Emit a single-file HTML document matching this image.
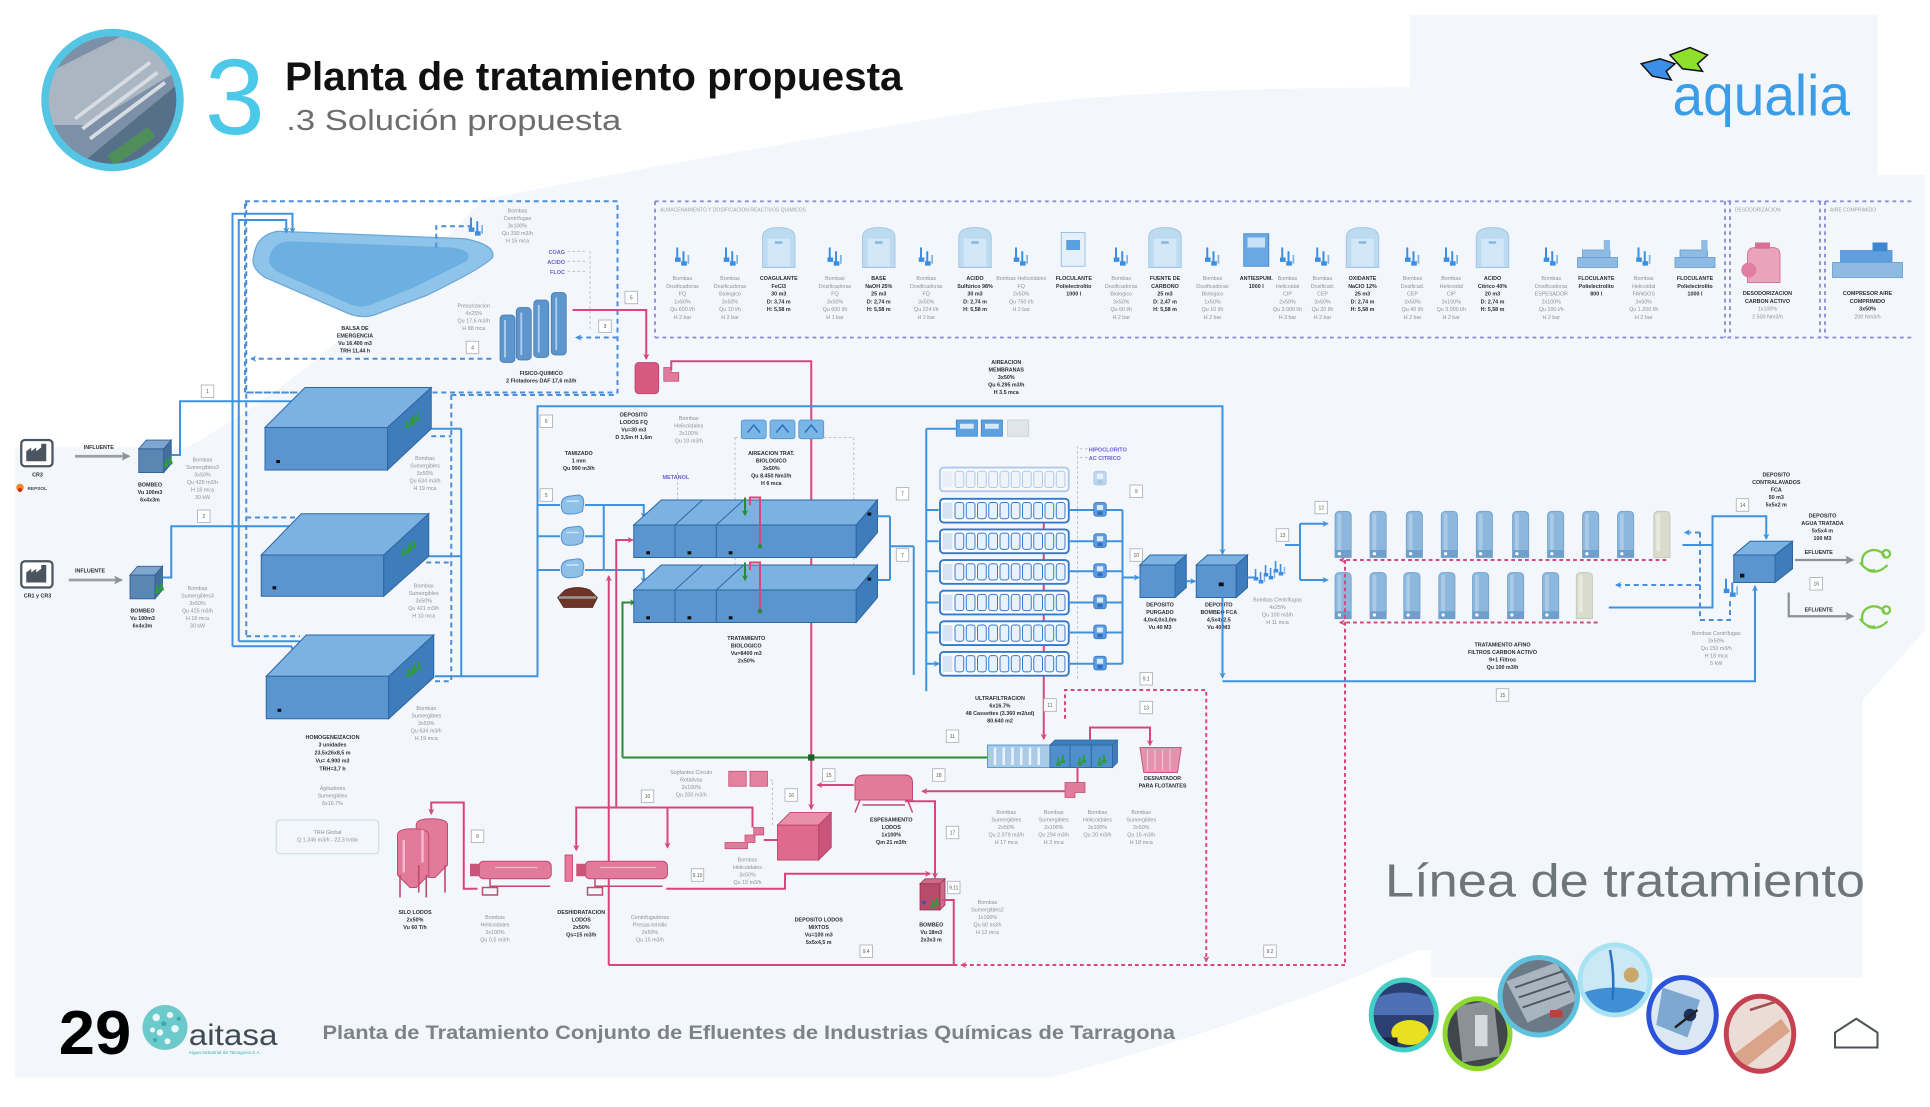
<!DOCTYPE html>
<html lang="es"><head><meta charset="utf-8"><title>Planta de tratamiento propuesta</title>
<style>
html,body{margin:0;padding:0;background:#fff;width:1930px;height:1107px;overflow:hidden}
svg{display:block}
text{font-family:"Liberation Sans",Arial,sans-serif}
.s{font-size:4.3px;fill:#8d9399;text-anchor:middle}
.b{font-size:4.3px;fill:#2b3036;text-anchor:middle;font-weight:bold}
.pu{font-size:4.4px;fill:#6a5ed2;font-weight:bold}
.n{font-size:4px;fill:#555;text-anchor:middle}
.bl{fill:none;stroke:#3f93de;stroke-width:1.6}
.bd{fill:none;stroke:#4a8fd8;stroke-width:1.6;stroke-dasharray:4 3}
.pk{fill:none;stroke:#d8467b;stroke-width:1.6}
.pd{fill:none;stroke:#d8467b;stroke-width:1.6;stroke-dasharray:3 2.5}
.gr{fill:none;stroke:#2c8a37;stroke-width:1.6}
.gd{fill:none;stroke:#b3b9bf;stroke-width:0.7;stroke-dasharray:2 2}
.vd{fill:none;stroke:#8d8fd9;stroke-width:1.5;stroke-dasharray:3 3}
.bf{fill:#5b95cf;stroke:#2d67a3;stroke-width:0.8}
.bt{fill:#7cb2e1;stroke:#2d67a3;stroke-width:0.8}
.br{fill:#3f7cbc;stroke:#2d67a3;stroke-width:0.8}
</style></head><body>
<svg xmlns="http://www.w3.org/2000/svg" width="1930" height="1107" viewBox="0 0 1544 885.6" preserveAspectRatio="none">
<defs>
<marker id="mb" viewBox="0 0 10 10" refX="8" refY="5" markerWidth="5" markerHeight="5" markerUnits="userSpaceOnUse" orient="auto"><path d="M0,0 L10,5 L0,10 L3,5Z" fill="#3f93de"/></marker>
<marker id="mp" viewBox="0 0 10 10" refX="8" refY="5" markerWidth="5" markerHeight="5" markerUnits="userSpaceOnUse" orient="auto"><path d="M0,0 L10,5 L0,10 L3,5Z" fill="#d8467b"/></marker>
<marker id="mg" viewBox="0 0 10 10" refX="8" refY="5" markerWidth="5" markerHeight="5" markerUnits="userSpaceOnUse" orient="auto"><path d="M0,0 L10,5 L0,10 L3,5Z" fill="#2c8a37"/></marker>
<marker id="mr" viewBox="0 0 10 10" refX="8" refY="5" markerWidth="7" markerHeight="7" markerUnits="userSpaceOnUse" orient="auto"><path d="M0,0 L10,5 L0,10 L2,5Z" fill="#8c9398"/></marker>
<g id="pm" fill="#3d8ee0"><rect x="1" y="0" width="1.6" height="9"/><rect x="0" y="8" width="4.5" height="3.5"/><rect x="6" y="3" width="1.6" height="9"/><rect x="5" y="11" width="4.5" height="3.5"/><rect x="10" y="6" width="1.4" height="7" fill="#7fb6e8"/></g>
<g id="tk"><path d="M0,8 Q0,0 13,0 Q26,0 26,8 V32 H0Z" fill="#bcdaf0" stroke="#9cc5e6" stroke-width="0.7"/><path d="M4,9 H22 V31 H4Z" fill="#d2e7f7"/><rect x="10" y="11" width="6" height="2" fill="#86b6df"/></g>
<g id="fl"><path d="M1,4 Q1,0 5,0 H10 Q14,0 14,4 V37 H1Z" fill="#8db7dc" stroke="#6c9fcf" stroke-width="0.6"/><rect x="3" y="2" width="3" height="30" fill="#a9cbe8"/><rect x="1" y="31" width="13" height="6" fill="#6f9fcb"/><circle cx="4.5" cy="34" r="1.3" fill="#fff"/></g>
<g id="flp"><path d="M1,4 Q1,0 5,0 H10 Q14,0 14,4 V37 H1Z" fill="#d9dccd" stroke="#bfc3b4" stroke-width="0.6"/><rect x="3" y="2" width="3" height="30" fill="#e8eadf"/></g>
<g id="uf"><rect x="0" y="0" width="103" height="19" rx="3" fill="#fff" stroke="#3478cc" stroke-width="1.5"/><rect x="2" y="3" width="8" height="13" fill="#d6e3f1"/>
<g fill="#e9f1fa" stroke="#3478cc" stroke-width="0.8"><rect x="12" y="3" width="7" height="13" rx="2"/><rect x="21" y="3" width="7" height="13" rx="2"/><rect x="30" y="3" width="7" height="13" rx="2"/><rect x="39" y="3" width="7" height="13" rx="2"/><rect x="48" y="3" width="7" height="13" rx="2"/><rect x="57" y="3" width="7" height="13" rx="2"/><rect x="66" y="3" width="7" height="13" rx="2"/><rect x="75" y="3" width="7" height="13" rx="2"/><rect x="84" y="3" width="7" height="13" rx="2"/><rect x="93" y="3" width="7" height="13" rx="2"/></g></g>
<g id="sv"><path d="M0,8 Q0,2 6,1 L14,0 Q18,1 18,6 L17,13 Q12,16 4,15 Q0,14 0,8Z" fill="#8ec0e8" stroke="#4f8fcf" stroke-width="0.8"/><path d="M4,5 H14" stroke="#cfe5f7" stroke-width="1.2"/></g>
<g id="gp" fill="#2f9a3a"><rect x="0" y="0" width="1.5" height="5"/><rect x="-1" y="4" width="3.5" height="2.5"/><rect x="3.5" y="-2" width="1.5" height="5"/><rect x="2.5" y="2" width="3.5" height="2.5"/></g>
<g id="up"><rect x="0" y="0" width="10" height="11" rx="2" fill="#5b9be0" stroke="#2f6fbf" stroke-width="0.6"/><rect x="2.5" y="2" width="5" height="4" fill="#dbeaf8"/><rect x="3" y="7" width="4" height="3" fill="#2f6fbf"/></g>
<g id="nb"><rect x="-5" y="-5" width="10" height="10" fill="#fff" stroke="#a0a8b0" stroke-width="0.6"/></g>
<clipPath id="cph"><circle cx="90" cy="80" r="51"/></clipPath>
<clipPath id="c1"><ellipse cx="1123" cy="812" rx="24" ry="26"/></clipPath>
<clipPath id="c2"><ellipse cx="1182" cy="827" rx="24" ry="26"/></clipPath>
<clipPath id="c3"><ellipse cx="1231" cy="797" rx="29" ry="29"/></clipPath>
<clipPath id="c4"><ellipse cx="1292" cy="784" rx="26" ry="26"/></clipPath>
<clipPath id="c5"><ellipse cx="1346" cy="812" rx="25" ry="28"/></clipPath>
<clipPath id="c6"><ellipse cx="1408" cy="827" rx="25" ry="28"/></clipPath>
</defs>

<!-- background -->
<rect width="1544" height="886" fill="#fff"/>
<rect x="12" y="12" width="1528" height="850" fill="#f3f6fa"/>
<path d="M0,0 H1544 V12 H1128 V70 Q900,70 790,88 Q560,125 385,160 Q270,290 150,358 H0 Z" fill="#fff"/>
<path d="M1502,0 H1544 V140 H1502Z" fill="#fff"/>
<path d="M840,862 Q1000,820 1135,760 L1145,760 V782 H1544 V886 H840Z" fill="#fff"/>
<path d="M1490,560 L1544,500 V862 H1490Z" fill="#fff"/>
<rect x="0" y="862" width="1544" height="24" fill="#fff"/>

<!-- header -->
<circle cx="90" cy="80" r="57" fill="#55c5e4"/>
<g clip-path="url(#cph)">
<rect x="35" y="25" width="110" height="110" fill="#7c91a7"/>
<path d="M35,60 L105,25 L145,35 L145,55 L70,100 L35,100Z" fill="#aab6c2"/>
<path d="M60,135 L145,65 L145,100 L95,140Z" fill="#56708a"/>
<path d="M60,95 L120,50 M66,103 L126,58 M72,111 L132,66" stroke="#d7dde3" stroke-width="3"/>
<rect x="85" y="112" width="40" height="10" fill="#4f8e5a" transform="rotate(-35 105 117)"/>
</g>
<text x="164" y="107" font-size="86" fill="#4cc8e9">3</text>
<text x="228" y="72" font-size="32" font-weight="bold" fill="#111" textLength="494" lengthAdjust="spacingAndGlyphs">Planta de tratamiento propuesta</text>
<text x="229" y="104" font-size="23" fill="#6d6d6d" textLength="268" lengthAdjust="spacingAndGlyphs">.3 Solución propuesta</text>

<!-- aqualia logo -->
<path d="M1313,51 L1328,47 L1340,51 L1333,57 L1337,64 L1322,61 Z" fill="#3b8fe6" stroke="#111" stroke-width="1.2"/>
<path d="M1336,44 L1352,38 L1366,44 L1358,51 L1362,57 L1346,55 Z" fill="#8ee02a" stroke="#111" stroke-width="1.2"/>
<text x="1338" y="92" font-size="46" fill="#3a9de8" textLength="142" lengthAdjust="spacingAndGlyphs">aqualia</text>

<!-- chemical dashed box -->
<path class="vd" d="M524,161 H1530 M524,270 H1530 M524,161 V270 M1380,161 V270 M1384,161 V270 M1456,161 V270 M1460,161 V270"/>
<text x="528" y="169" font-size="4" fill="#9aa3ad">ALMACENAMIENTO Y DOSIFICACION REACTIVOS QUIMICOS</text>
<text x="1388" y="169" font-size="4" fill="#9aa3ad">DESODORIZACION</text>
<text x="1464" y="169" font-size="4" fill="#9aa3ad">AIRE COMPRIMIDO</text>

<use href="#pm" x="540" y="198"/><use href="#pm" x="579" y="198"/><use href="#tk" x="610" y="182"/>
<use href="#pm" x="662" y="198"/><use href="#tk" x="690" y="182"/><use href="#pm" x="735" y="198"/>
<use href="#tk" x="767" y="182"/><use href="#pm" x="811" y="198"/>
<rect x="849" y="186" width="19" height="27" fill="#e6f0f8" stroke="#8fbde3" stroke-width="0.7"/><rect x="853" y="192" width="11" height="8" fill="#5a9fe0"/>
<use href="#pm" x="891" y="198"/><use href="#tk" x="919" y="182"/><use href="#pm" x="964" y="198"/>
<rect x="995" y="187" width="20" height="26" fill="#6aa8e2" stroke="#3d86d0" stroke-width="0.7"/><rect x="998" y="190" width="14" height="8" fill="#c9e0f5"/>
<use href="#pm" x="1024" y="198"/><use href="#pm" x="1052" y="198"/><use href="#tk" x="1077" y="182"/>
<use href="#pm" x="1124" y="198"/><use href="#pm" x="1155" y="198"/><use href="#tk" x="1181" y="182"/>
<use href="#pm" x="1235" y="198"/>
<path d="M1262,206 H1294 V214 H1262Z M1266,200 H1288 V206 H1266Z" fill="#8dbbe4" stroke="#5d97d0" stroke-width="0.6"/><rect x="1283" y="192" width="5" height="9" fill="#8dbbe4"/>
<use href="#pm" x="1309" y="198"/>
<path d="M1340,206 H1372 V214 H1340Z M1344,200 H1366 V206 H1344Z" fill="#8dbbe4" stroke="#5d97d0" stroke-width="0.6"/><rect x="1361" y="192" width="5" height="9" fill="#8dbbe4"/>
<path d="M1398,204 Q1398,198 1404,198 H1418 Q1424,198 1424,204 V226 H1398Z" fill="#e9a3bb" stroke="#cf6f93" stroke-width="0.7"/><circle cx="1399" cy="216" r="6" fill="#e07da1"/><rect x="1404" y="194" width="12" height="5" fill="#d86f95"/>
<path d="M1466,210 H1522 V222 H1466Z" fill="#8fbbe3" stroke="#5d97d0" stroke-width="0.6"/><path d="M1472,200 H1514 V210 H1472Z" fill="#5f9edc"/><rect x="1498" y="194" width="12" height="7" fill="#3f86d0"/>

<g>
<text class="s" x="546" y="224"><tspan x="546">Bombas</tspan><tspan x="546" dy="6.2">Dosificadoras</tspan><tspan x="546" dy="6.2">FQ</tspan><tspan x="546" dy="6.2">1x50%</tspan><tspan x="546" dy="6.2">Qu 600 l/h</tspan><tspan x="546" dy="6.2">H 2 bar</tspan></text>
<text class="s" x="584" y="224"><tspan x="584">Bombas</tspan><tspan x="584" dy="6.2">Dosificadoras</tspan><tspan x="584" dy="6.2">Biologico</tspan><tspan x="584" dy="6.2">3x50%</tspan><tspan x="584" dy="6.2">Qu 10 l/h</tspan><tspan x="584" dy="6.2">H 2 bar</tspan></text>
<text class="b" x="623" y="224"><tspan x="623">COAGULANTE</tspan><tspan x="623" dy="6.2">FeCl3</tspan><tspan x="623" dy="6.2">30 m3</tspan><tspan x="623" dy="6.2">D: 3,74 m</tspan><tspan x="623" dy="6.2">H: 5,58 m</tspan></text>
<text class="s" x="668" y="224"><tspan x="668">Bombas</tspan><tspan x="668" dy="6.2">Dosificadoras</tspan><tspan x="668" dy="6.2">FQ</tspan><tspan x="668" dy="6.2">3x50%</tspan><tspan x="668" dy="6.2">Qu 600 l/h</tspan><tspan x="668" dy="6.2">H 1 bar</tspan></text>
<text class="b" x="703" y="224"><tspan x="703">BASE</tspan><tspan x="703" dy="6.2">NaOH 25%</tspan><tspan x="703" dy="6.2">25 m3</tspan><tspan x="703" dy="6.2">D: 2,74 m</tspan><tspan x="703" dy="6.2">H: 5,58 m</tspan></text>
<text class="s" x="741" y="224"><tspan x="741">Bombas</tspan><tspan x="741" dy="6.2">Dosificadoras</tspan><tspan x="741" dy="6.2">FQ</tspan><tspan x="741" dy="6.2">3x50%</tspan><tspan x="741" dy="6.2">Qu 224 l/h</tspan><tspan x="741" dy="6.2">H 2 bar</tspan></text>
<text class="b" x="780" y="224"><tspan x="780">ACIDO</tspan><tspan x="780" dy="6.2">Sulfúrico 98%</tspan><tspan x="780" dy="6.2">30 m3</tspan><tspan x="780" dy="6.2">D: 2,74 m</tspan><tspan x="780" dy="6.2">H: 5,58 m</tspan></text>
<text class="s" x="817" y="224"><tspan x="817">Bombas Helicoidales</tspan><tspan x="817" dy="6.2">FQ</tspan><tspan x="817" dy="6.2">2x50%</tspan><tspan x="817" dy="6.2">Qu 750 l/h</tspan><tspan x="817" dy="6.2">H 2 bar</tspan></text>
<text class="b" x="859" y="224"><tspan x="859">FLOCULANTE</tspan><tspan x="859" dy="6.2">Polielectrolito</tspan><tspan x="859" dy="6.2">1000 l</tspan></text>
<text class="s" x="897" y="224"><tspan x="897">Bombas</tspan><tspan x="897" dy="6.2">Dosificadoras</tspan><tspan x="897" dy="6.2">Biologico</tspan><tspan x="897" dy="6.2">3x50%</tspan><tspan x="897" dy="6.2">Qu 60 l/h</tspan><tspan x="897" dy="6.2">H 2 bar</tspan></text>
<text class="b" x="932" y="224"><tspan x="932">FUENTE DE</tspan><tspan x="932" dy="6.2">CARBONO</tspan><tspan x="932" dy="6.2">25 m3</tspan><tspan x="932" dy="6.2">D: 2,47 m</tspan><tspan x="932" dy="6.2">H: 5,58 m</tspan></text>
<text class="s" x="970" y="224"><tspan x="970">Bombas</tspan><tspan x="970" dy="6.2">Dosificadoras</tspan><tspan x="970" dy="6.2">Biologico</tspan><tspan x="970" dy="6.2">1x50%</tspan><tspan x="970" dy="6.2">Qu 10 l/h</tspan><tspan x="970" dy="6.2">H 2 bar</tspan></text>
<text class="b" x="1005" y="224"><tspan x="1005">ANTIESPUM.</tspan><tspan x="1005" dy="6.2">1000 l</tspan></text>
<text class="s" x="1030" y="224"><tspan x="1030">Bombas</tspan><tspan x="1030" dy="6.2">Helicoidal</tspan><tspan x="1030" dy="6.2">CIP</tspan><tspan x="1030" dy="6.2">2x50%</tspan><tspan x="1030" dy="6.2">Qu 3.000 l/h</tspan><tspan x="1030" dy="6.2">H 3 bar</tspan></text>
<text class="s" x="1058" y="224"><tspan x="1058">Bombas</tspan><tspan x="1058" dy="6.2">Dosificad.</tspan><tspan x="1058" dy="6.2">CEP</tspan><tspan x="1058" dy="6.2">3x50%</tspan><tspan x="1058" dy="6.2">Qu 20 l/h</tspan><tspan x="1058" dy="6.2">H 2 bar</tspan></text>
<text class="b" x="1090" y="224"><tspan x="1090">OXIDANTE</tspan><tspan x="1090" dy="6.2">NaClO 12%</tspan><tspan x="1090" dy="6.2">25 m3</tspan><tspan x="1090" dy="6.2">D: 2,74 m</tspan><tspan x="1090" dy="6.2">H: 5,58 m</tspan></text>
<text class="s" x="1130" y="224"><tspan x="1130">Bombas</tspan><tspan x="1130" dy="6.2">Dosificad.</tspan><tspan x="1130" dy="6.2">CEP</tspan><tspan x="1130" dy="6.2">3x50%</tspan><tspan x="1130" dy="6.2">Qu 40 l/h</tspan><tspan x="1130" dy="6.2">H 2 bar</tspan></text>
<text class="s" x="1161" y="224"><tspan x="1161">Bombas</tspan><tspan x="1161" dy="6.2">Helicoidal</tspan><tspan x="1161" dy="6.2">CIP</tspan><tspan x="1161" dy="6.2">3x100%</tspan><tspan x="1161" dy="6.2">Qu 3.000 l/h</tspan><tspan x="1161" dy="6.2">H 2 bar</tspan></text>
<text class="b" x="1194" y="224"><tspan x="1194">ACIDO</tspan><tspan x="1194" dy="6.2">Cítrico 40%</tspan><tspan x="1194" dy="6.2">20 m3</tspan><tspan x="1194" dy="6.2">D: 2,74 m</tspan><tspan x="1194" dy="6.2">H: 5,58 m</tspan></text>
<text class="s" x="1241" y="224"><tspan x="1241">Bombas</tspan><tspan x="1241" dy="6.2">Dosificadoras</tspan><tspan x="1241" dy="6.2">ESPESADOR</tspan><tspan x="1241" dy="6.2">2x100%</tspan><tspan x="1241" dy="6.2">Qu 100 l/h</tspan><tspan x="1241" dy="6.2">H 2 bar</tspan></text>
<text class="b" x="1277" y="224"><tspan x="1277">FLOCULANTE</tspan><tspan x="1277" dy="6.2">Polielectrolito</tspan><tspan x="1277" dy="6.2">800 l</tspan></text>
<text class="s" x="1315" y="224"><tspan x="1315">Bombas</tspan><tspan x="1315" dy="6.2">Helicoidal</tspan><tspan x="1315" dy="6.2">FANGOS</tspan><tspan x="1315" dy="6.2">3x50%</tspan><tspan x="1315" dy="6.2">Qu 1.200 l/h</tspan><tspan x="1315" dy="6.2">H 2 bar</tspan></text>
<text class="b" x="1356" y="224"><tspan x="1356">FLOCULANTE</tspan><tspan x="1356" dy="6.2">Polielectrolito</tspan><tspan x="1356" dy="6.2">1000 l</tspan></text>
<text class="b" x="1414" y="236"><tspan x="1414">DESODORIZACION</tspan><tspan x="1414" dy="6.2">CARBON ACTIVO</tspan></text>
<text class="s" x="1414" y="248.4"><tspan x="1414">1x100%</tspan><tspan x="1414" dy="6.2">2.500 Nm3/h</tspan></text>
<text class="b" x="1494" y="236"><tspan x="1494">COMPRESOR AIRE</tspan><tspan x="1494" dy="6.2">COMPRIMIDO</tspan><tspan x="1494" dy="6.2">3x50%</tspan></text>
<text class="s" x="1494" y="254.6">200 Nm3/h</text>
</g>

<!-- top-left dashed box & lagoon -->
<rect x="196" y="161" width="298" height="153" class="bd"/>
<path d="M203,205 Q205,188 222,185 L372,191 Q397,196 394,206 Q387,214 342,236 L302,251 Q290,256 277,250 L212,222 Q200,214 203,205 Z" fill="#8ec4ea" stroke="#6aa8d8" stroke-width="1"/>
<path d="M216,204 Q219,194 231,193 L362,198 Q380,201 373,209 L331,230 L296,244 Q288,247 279,243 L223,218 Q213,212 216,204 Z" fill="#6cb0e2"/>
<path class="bd" d="M349,198 V181 H376"/>
<use href="#pm" x="375" y="174"/>
<path class="bd" d="M393,287 H201" marker-end="url(#mb)"/>
<path class="bd" d="M494,270 H461" marker-end="url(#mb)"/>
<path class="gd" d="M454,201 H468 M454,209 H468 M454,217 H468 M472,201 V263"/>
<text class="pu" x="452" y="203" text-anchor="end">COAG</text>
<text class="pu" x="452" y="211" text-anchor="end">ACIDO</text>
<text class="pu" x="452" y="219" text-anchor="end">FLOC</text>
<text class="s" x="414" y="170"><tspan x="414">Bombas</tspan><tspan x="414" dy="6">Centrífugas</tspan><tspan x="414" dy="6">3x100%</tspan><tspan x="414" dy="6">Qu 330 m3/h</tspan><tspan x="414" dy="6">H 15 mca</tspan></text>
<g fill="#5d95cc" stroke="#3f78b5" stroke-width="0.6">
<rect x="400" y="252" width="12" height="38" rx="3"/><rect x="413" y="246" width="12" height="42" rx="3"/><rect x="427" y="240" width="12" height="46" rx="3"/><rect x="441" y="234" width="12" height="50" rx="3"/>
</g>
<path d="M404,256 V286 M417,250 V284 M431,244 V282 M445,238 V280" stroke="#a9cdee" stroke-width="1.5"/>
<text class="s" x="379" y="246"><tspan x="379">Presurizacion</tspan><tspan x="379" dy="6">4x25%</tspan><tspan x="379" dy="6">Qu 17,6 m3/h</tspan><tspan x="379" dy="6">H 88 mca</tspan></text>
<text class="b" x="284" y="264"><tspan x="284">BALSA DE</tspan><tspan x="284" dy="6">EMERGENCIA</tspan><tspan x="284" dy="6">Vu 16.400 m3</tspan><tspan x="284" dy="6">TRH 11,44 h</tspan></text>
<text class="b" x="433" y="300"><tspan x="433">FISICO-QUIMICO</tspan><tspan x="433" dy="6">2 Flotadores DAF 17,6 m3/h</tspan></text>
<use href="#nb" x="378" y="278"/><text class="n" x="378" y="279.5">4</text>
<use href="#nb" x="484" y="261"/><text class="n" x="484" y="262.5">3</text>
<use href="#nb" x="505" y="238"/><text class="n" x="505" y="239.5">5</text>

<!-- pink top -->
<path class="pk" d="M458,248 H517 V287" marker-end="url(#mp)"/>
<rect x="508" y="290" width="19" height="25" rx="3" fill="#d65a80" stroke="#b84067" stroke-width="0.6"/>
<path d="M531,305 H543 V298 H537 V294 H531Z" fill="#e27a9b" stroke="#c24a71" stroke-width="0.6"/>
<path class="pk" d="M537,296 V289 H649 V647" marker-end="url(#mp)"/>

<!-- left influents -->
<rect x="17" y="352" width="25" height="21" rx="3" fill="#fff" stroke="#4a5560" stroke-width="1.8"/>
<path d="M21,369 V361 L25,358 V361 L29,358 V361 L33,358 V355 H37 V369 Z" fill="#4a5560"/>
<text class="b" x="30" y="381">CR3</text>
<circle cx="16" cy="390" r="3" fill="#f08a1c"/><circle cx="16" cy="392" r="1.6" fill="#d6241e"/>
<text x="22" y="392" font-size="3.8" fill="#444" font-weight="bold">REPSOL</text>
<rect x="17" y="449" width="25" height="21" rx="3" fill="#fff" stroke="#4a5560" stroke-width="1.8"/>
<path d="M21,466 V458 L25,455 V458 L29,455 V458 L33,455 V452 H37 V466 Z" fill="#4a5560"/>
<text class="b" x="30" y="478">CR1 y CR3</text>
<path d="M60,365 H103" stroke="#9aa0a5" stroke-width="2.2" fill="none" marker-end="url(#mr)"/>
<text class="b" x="79" y="359">INFLUENTE</text>
<path d="M55,464 H97" stroke="#9aa0a5" stroke-width="2.2" fill="none" marker-end="url(#mr)"/>
<text class="b" x="72" y="458">INFLUENTE</text>
<path d="M111,359 H131 V378 H111Z" fill="#5a86b4" stroke="#2d5f95" stroke-width="0.7"/>
<path d="M111,359 L117,352 H137 L131,359Z" fill="#7ea6cf" stroke="#2d5f95" stroke-width="0.7"/>
<path d="M131,359 L137,352 V371 L131,378Z" fill="#436f9d" stroke="#2d5f95" stroke-width="0.7"/>
<use href="#gp" x="132" y="367"/>
<path d="M104,460 H124 V479 H104Z" fill="#5a86b4" stroke="#2d5f95" stroke-width="0.7"/>
<path d="M104,460 L110,453 H130 L124,460Z" fill="#7ea6cf" stroke="#2d5f95" stroke-width="0.7"/>
<path d="M124,460 L130,453 V472 L124,479Z" fill="#436f9d" stroke="#2d5f95" stroke-width="0.7"/>
<use href="#gp" x="125" y="468"/>
<text class="b" x="120" y="389"><tspan x="120">BOMBEO</tspan><tspan x="120" dy="6">Vu 100m3</tspan><tspan x="120" dy="6">6x4x3m</tspan></text>
<text class="b" x="114" y="490"><tspan x="114">BOMBEO</tspan><tspan x="114" dy="6">Vu 100m3</tspan><tspan x="114" dy="6">6x4x3m</tspan></text>
<text class="s" x="162" y="369"><tspan x="162">Bombas</tspan><tspan x="162" dy="6">Sumergibles3</tspan><tspan x="162" dy="6">3x50%</tspan><tspan x="162" dy="6">Qu 425 m3/h</tspan><tspan x="162" dy="6">H 16 mca</tspan><tspan x="162" dy="6">30 kW</tspan></text>
<text class="s" x="158" y="472"><tspan x="158">Bombas</tspan><tspan x="158" dy="6">Sumergibles3</tspan><tspan x="158" dy="6">3x50%</tspan><tspan x="158" dy="6">Qu 425 m3/h</tspan><tspan x="158" dy="6">H 16 mca</tspan><tspan x="158" dy="6">30 kW</tspan></text>
<use href="#nb" x="166" y="313"/><text class="n" x="166" y="314.5">1</text>
<use href="#nb" x="163" y="413"/><text class="n" x="163" y="414.5">2</text>

<!-- blue pipes left -->
<path class="bl" d="M137,364 H144 V321 H191"/>
<path class="bl" d="M130,462 H137 V421 H191"/>
<path class="bl" d="M186,517 V171 H234 V186" marker-end="url(#mb)"/>
<path class="bl" d="M191,513 V176 H229 V186" marker-end="url(#mb)"/>
<path class="bl" d="M191,321 H243 V335" marker-end="url(#mb)"/>
<path class="bl" d="M237,321 V333" marker-end="url(#mb)"/>
<path class="bl" d="M191,421 H240 V436" marker-end="url(#mb)"/>
<path class="bl" d="M234,421 V434" marker-end="url(#mb)"/>
<path class="bl" d="M186,517 H233 L239,529" marker-end="url(#mb)"/>
<path class="bl" d="M191,513 H239 L245,526" marker-end="url(#mb)"/>
<path class="bd" d="M197,161 V510 M197,314 H239 M197,414 H239 M197,509 H240"/>
<path class="bl" d="M345,343 H369 M341,445 H369 M348,541 H369"/>
<path class="bl" d="M369,343 V541 H430 V325 H978 V443" marker-end="url(#mb)"/>
<path class="bd" d="M361,316 V545 M361,316 H494 M345,349 H361 M341,450 H361 M348,545 H361"/>

<!-- homogenization boxes -->
<path class="bt" d="M212,342 L244,310 H345 L310,342Z"/><path class="bf" d="M212,342 H310 V376 H212Z"/><path class="br" d="M310,342 L345,310 V343 L310,376Z"/>
<path class="bt" d="M209,444 L241,411 H343 L307,444Z"/><path class="bf" d="M209,444 H307 V477 H209Z"/><path class="br" d="M307,444 L343,411 V445 L307,477Z"/>
<path class="bt" d="M213,541 L245,508 H347 L311,541Z"/><path class="bf" d="M213,541 H311 V575 H213Z"/><path class="br" d="M311,541 L347,508 V542 L311,575Z"/>
<g fill="#111"><rect x="221" y="368" width="3" height="2.5"/><rect x="218" y="469" width="3" height="2.5"/><rect x="222" y="567" width="3" height="2.5"/></g>
<use href="#gp" x="325" y="336"/><use href="#gp" x="330" y="332"/><use href="#gp" x="322" y="438"/><use href="#gp" x="327" y="434"/><use href="#gp" x="326" y="535"/><use href="#gp" x="331" y="531"/>
<text class="s" x="340" y="368"><tspan x="340">Bombas</tspan><tspan x="340" dy="6">Sumergibles</tspan><tspan x="340" dy="6">3x50%</tspan><tspan x="340" dy="6">Qu 634 m3/h</tspan><tspan x="340" dy="6">H 19 mca</tspan></text>
<text class="s" x="339" y="470"><tspan x="339">Bombas</tspan><tspan x="339" dy="6">Sumergibles</tspan><tspan x="339" dy="6">3x50%</tspan><tspan x="339" dy="6">Qu 421 m3/h</tspan><tspan x="339" dy="6">H 10 mca</tspan></text>
<text class="s" x="341" y="568"><tspan x="341">Bombas</tspan><tspan x="341" dy="6">Sumergibles</tspan><tspan x="341" dy="6">3x50%</tspan><tspan x="341" dy="6">Qu 634 m3/h</tspan><tspan x="341" dy="6">H 19 mca</tspan></text>
<text class="b" x="266" y="591"><tspan x="266">HOMOGENEIZACION</tspan><tspan x="266" dy="6.3">3 unidades</tspan><tspan x="266" dy="6.3">23,5x26x8,5 m</tspan><tspan x="266" dy="6.3">Vu= 4.900 m3</tspan><tspan x="266" dy="6.3">TRH=3,7 h</tspan></text>
<text class="s" x="266" y="632"><tspan x="266">Agitadores</tspan><tspan x="266" dy="6">Sumergibles</tspan><tspan x="266" dy="6">6x16.7%</tspan></text>
<rect x="221" y="656" width="82" height="27" rx="3" fill="none" stroke="#c8d8e8" stroke-width="0.8"/>
<text class="s" x="262" y="667"><tspan x="262">TRH Global</tspan><tspan x="262" dy="6">Q 1.346 m3/h - 22,3 h/dia</tspan></text>

<!-- middle: sieves & biological -->
<use href="#nb" x="437" y="337"/><text class="n" x="437" y="338.5">6</text>
<use href="#nb" x="437" y="396"/><text class="n" x="437" y="397.5">5</text>
<text class="b" x="507" y="333"><tspan x="507">DEPOSITO</tspan><tspan x="507" dy="6">LODOS FQ</tspan><tspan x="507" dy="6">Vu=30 m3</tspan><tspan x="507" dy="6">D 3,5m H 1,6m</tspan></text>
<text class="s" x="551" y="336"><tspan x="551">Bombas</tspan><tspan x="551" dy="6">Helicoidales</tspan><tspan x="551" dy="6">2x100%</tspan><tspan x="551" dy="6">Qu 10 m3/h</tspan></text>
<text class="b" x="463" y="364"><tspan x="463">TAMIZADO</tspan><tspan x="463" dy="6">1 mm</tspan><tspan x="463" dy="6">Qu 990 m3/h</tspan></text>
<text class="pu" x="530" y="383">METANOL</text>
<text class="b" x="617" y="364"><tspan x="617">AIREACION TRAT.</tspan><tspan x="617" dy="6">BIOLOGICO</tspan><tspan x="617" dy="6">3x50%</tspan><tspan x="617" dy="6">Qu 8.450 Nm3/h</tspan><tspan x="617" dy="6">H 6 mca</tspan></text>
<g><rect x="593" y="336" width="20" height="15" rx="2" fill="#79b6e6" stroke="#4d8fd0" stroke-width="0.6"/><rect x="616" y="336" width="20" height="15" rx="2" fill="#79b6e6" stroke="#4d8fd0" stroke-width="0.6"/><rect x="639" y="336" width="20" height="15" rx="2" fill="#79b6e6" stroke="#4d8fd0" stroke-width="0.6"/>
<path d="M598,346 L603,340 L608,346 M621,346 L626,340 L631,346 M644,346 L649,340 L654,346" stroke="#2f6fbf" stroke-width="1.2" fill="none"/></g>
<path class="gd" d="M588,350 H593 M588,350 V498 M659,350 H683 V498 M542,378 V400"/>
<path class="bl" d="M430,404 H448 M430,429 H448 M430,456 H448"/>
<use href="#sv" x="449" y="396"/><use href="#sv" x="449" y="421"/><use href="#sv" x="449" y="447"/>
<path d="M446,478 L452,472 Q462,468 472,472 L478,478 L474,486 H451Z" fill="#6e3426" stroke="#4a2218" stroke-width="0.5"/><path d="M447,478 H477" stroke="#9a9a9a" stroke-width="2"/>
<path class="bl" d="M468,404 H483 M468,429 H483 M468,456 H483 M483,404 V456"/>
<path class="bl" d="M483,404 H515 V414" marker-end="url(#mb)"/>
<path class="bl" d="M483,456 H515 V466" marker-end="url(#mb)"/>
<path class="pk" d="M487,772 V461" marker-end="url(#mp)"/>
<path class="pk" d="M493,646 V432 H506" marker-end="url(#mp)"/>
<path class="gr" d="M498,606 V482 H508" marker-end="url(#mg)"/>
<path class="gr" d="M498,606 H792"/>
<path class="bt" d="M507,420 L529,400 H702 L685,420Z"/><path class="bf" d="M507,420 H685 V446 H507Z"/><path class="br" d="M685,420 L702,400 V426 L685,446Z"/>
<path class="bt" d="M507,472 L529,452 H702 L685,472Z"/><path class="bf" d="M507,472 H685 V498 H507Z"/><path class="br" d="M685,472 L702,452 V478 L685,498Z"/>
<path d="M540,420 V446 M573,420 V446 M540,420 L562,400 M573,420 L595,400 M540,472 V498 M573,472 V498 M540,472 L562,452 M573,472 L595,452" stroke="#2d67a3" stroke-width="0.8"/>
<g fill="#111"><rect x="517" y="441" width="3" height="2.5"/><rect x="550" y="441" width="3" height="2.5"/><rect x="583" y="441" width="3" height="2.5"/><rect x="694" y="410" width="3" height="2.5"/><rect x="517" y="493" width="3" height="2.5"/><rect x="550" y="493" width="3" height="2.5"/><rect x="583" y="493" width="3" height="2.5"/><rect x="694" y="462" width="3" height="2.5"/></g>
<path class="gr" d="M596,398 V412" marker-end="url(#mg)"/><path class="pk" d="M600,404 V398 H608 V436"/>
<path class="gr" d="M596,450 V464" marker-end="url(#mg)"/><path class="pk" d="M600,456 V450 H608 V488"/>
<circle cx="608" cy="437" r="1.8" fill="#2c8a37"/><circle cx="608" cy="489" r="1.8" fill="#2c8a37"/>
<text class="b" x="597" y="512"><tspan x="597">TRATAMIENTO</tspan><tspan x="597" dy="6">BIOLOGICO</tspan><tspan x="597" dy="6">Vu=8400 m3</tspan><tspan x="597" dy="6">2x50%</tspan></text>
<path class="bl" d="M702,413 H712 M702,464 H712 M712,413 V464 M712,437 H731"/>
<use href="#nb" x="722" y="395"/><text class="n" x="722" y="396.5">7</text>
<use href="#nb" x="722" y="444"/><text class="n" x="722" y="445.5">7</text>

<!-- UF -->
<text class="b" x="805" y="291"><tspan x="805">AIREACION</tspan><tspan x="805" dy="6">MEMBRANAS</tspan><tspan x="805" dy="6">3x50%</tspan><tspan x="805" dy="6">Qu 6.295 m3/h</tspan><tspan x="805" dy="6">H 3.5 mca</tspan></text>
<rect x="765" y="336" width="17" height="13" fill="#5da0e0" stroke="#3d86d0" stroke-width="0.6"/><rect x="785" y="336" width="17" height="13" fill="#5da0e0" stroke="#3d86d0" stroke-width="0.6"/><rect x="806" y="336" width="17" height="13" fill="#dfe6ea" stroke="#c5ced4" stroke-width="0.6"/>
<path d="M768,339 H779 V343 H768Z M788,339 H799 V343 H788Z" fill="#d6e8f7"/>
<path class="bl" d="M731,437 V540 M741,343 V553 M741,343 H765"/>
<path class="bl" d="M741,408 H751 M741,433 H751 M741,457 H751 M741,482 H751 M741,506 H751 M741,531 H751" marker-end="url(#mb)"/>
<path class="pk" d="M835,400 V591" marker-end="url(#mp)"/>
<path class="gd" d="M862,357 V545 M870,359 H862 M870,366 H862"/>
<text class="pu" x="871" y="361" font-size="4.2">HIPOCLORITO</text>
<text class="pu" x="871" y="368" font-size="4.2">AC CITRICO</text>
<g opacity="0.35"><use href="#uf" x="752" y="374"/></g>
<use href="#uf" x="752" y="399"/><use href="#uf" x="752" y="423.5"/><use href="#uf" x="752" y="448"/><use href="#uf" x="752" y="472.5"/><use href="#uf" x="752" y="497"/><use href="#uf" x="752" y="521.5"/>
<path class="bl" d="M855,408 H875 M855,433 H875 M855,457 H875 M855,482 H875 M855,506 H875 M855,531 H875 M885,408 H898 M885,433 H898 M885,457 H898 M885,482 H898 M885,506 H898 M885,531 H898 M898,408 V531"/>
<g opacity="0.35"><use href="#up" x="875" y="377"/></g>
<use href="#up" x="875" y="402"/><use href="#up" x="875" y="427"/><use href="#up" x="875" y="451"/><use href="#up" x="875" y="476"/><use href="#up" x="875" y="500"/><use href="#up" x="875" y="525"/>
<path class="bl" d="M898,462 H911" marker-end="url(#mb)"/>
<use href="#nb" x="909" y="393"/><text class="n" x="909" y="394.5">9</text>
<use href="#nb" x="909" y="444"/><text class="n" x="909" y="445.5">10</text>
<text class="b" x="800" y="560"><tspan x="800">ULTRAFILTRACION</tspan><tspan x="800" dy="6">6x16.7%</tspan><tspan x="800" dy="6">48 Cassettes (3.360 m2/ud)</tspan><tspan x="800" dy="6">80.640 m2</tspan></text>

<!-- right cubes -->
<path class="bt" d="M912,452 L920,444 H949 L940,452Z"/><path class="bf" d="M912,452 H940 V478 H912Z"/><path class="br" d="M940,452 L949,444 V470 L940,478Z"/>
<path class="bt" d="M957,452 L966,444 H998 L989,452Z"/><path class="bf" d="M957,452 H989 V478 H957Z"/><path class="br" d="M989,452 L998,444 V470 L989,478Z"/>
<rect x="975" y="466" width="4" height="3" fill="#111"/>
<path class="bl" d="M949,465 H956" marker-end="url(#mb)"/>
<path class="bl" d="M998,462 H1004"/>
<g transform="translate(1003,452) scale(0.8)"><use href="#pm" x="0" y="4"/><use href="#pm" x="10" y="0"/><use href="#pm" x="20" y="-4"/></g>
<path class="bl" d="M1028,436 H1040 M1040,419 V464"/>
<path class="bl" d="M1040,419 H1062" marker-end="url(#mb)"/>
<path class="bl" d="M1040,464 H1062" marker-end="url(#mb)"/>
<text class="b" x="928" y="485"><tspan x="928">DEPOSITO</tspan><tspan x="928" dy="6">PURGADO</tspan><tspan x="928" dy="6">4,0x4,0x3,0m</tspan><tspan x="928" dy="6">Vu 40 M3</tspan></text>
<text class="b" x="975" y="485"><tspan x="975">DEPOSITO</tspan><tspan x="975" dy="6">BOMBEO FCA</tspan><tspan x="975" dy="6">4,5x4x2,5</tspan><tspan x="975" dy="6">Vu 40 M3</tspan></text>
<text class="s" x="1022" y="481"><tspan x="1022">Bombas Centrífugas</tspan><tspan x="1022" dy="6">4x25%</tspan><tspan x="1022" dy="6">Qu 100 m3/h</tspan><tspan x="1022" dy="6">H 11 mca</tspan></text>
<use href="#nb" x="1026" y="428"/><text class="n" x="1026" y="429.5">13</text>
<use href="#nb" x="1057" y="406"/><text class="n" x="1057" y="407.5">12</text>

<!-- filters -->
<use href="#fl" x="1067" y="409"/><use href="#fl" x="1095" y="409"/><use href="#fl" x="1124" y="409"/><use href="#fl" x="1152" y="409"/><use href="#fl" x="1180" y="409"/><use href="#fl" x="1209" y="409"/><use href="#fl" x="1237" y="409"/><use href="#fl" x="1265" y="409"/><use href="#fl" x="1293" y="409"/><use href="#flp" x="1322" y="409"/>
<use href="#fl" x="1067" y="458"/><use href="#fl" x="1095" y="458"/><use href="#fl" x="1122" y="458"/><use href="#fl" x="1150" y="458"/><use href="#fl" x="1177" y="458"/><use href="#fl" x="1205" y="458"/><use href="#fl" x="1233" y="458"/><use href="#flp" x="1260" y="458"/>
<path class="pd" d="M1333,448 H1072" marker-end="url(#mp)"/>
<path class="pd" d="M1278,498 H1072" marker-end="url(#mp)"/>
<path class="pd" d="M1076,448 V772"/>
<path class="bd" d="M1360,426 H1348" marker-end="url(#mb)"/>
<path class="bd" d="M1360,468 H1293" marker-end="url(#mb)"/>
<path class="bd" d="M1360,426 V496 H1384 V478"/>
<path class="bl" d="M1346,436 H1370 V413 H1413 V431" marker-end="url(#mb)"/>
<path class="bl" d="M1287,486 H1370 V436"/>
<use href="#pm" x="1379" y="463"/>
<path class="bt" d="M1387,444 L1400,433 H1434 L1420,444Z"/><path class="bf" d="M1387,444 H1420 V466 H1387Z"/><path class="br" d="M1420,444 L1434,433 V455 L1420,466Z"/>
<rect x="1392" y="459" width="3.5" height="3" fill="#111"/>
<path class="bl" d="M978,478 V542" marker-end="url(#mb)"/>
<path class="bl" d="M978,545 H1404 V469" marker-end="url(#mb)"/>
<path d="M1436,448 H1482" stroke="#8c9398" stroke-width="1.8" fill="none" marker-end="url(#mr)"/>
<path d="M1431,474 V493 H1482" stroke="#8c9398" stroke-width="1.8" fill="none" marker-end="url(#mr)"/>
<g fill="none" stroke="#7ac943" stroke-width="1.8">
<path d="M1490,452 Q1488,442 1498,440 Q1506,440 1508,446 M1494,456 Q1502,460 1510,452 M1488,450 Q1494,458 1500,456"/><circle cx="1509" cy="443" r="3"/>
<path d="M1490,497 Q1488,487 1498,485 Q1506,485 1508,491 M1494,501 Q1502,505 1510,497 M1488,495 Q1494,503 1500,501"/><circle cx="1509" cy="488" r="3"/>
</g>
<text class="b" x="1421" y="381"><tspan x="1421">DEPOSITO</tspan><tspan x="1421" dy="6">CONTRALAVADOS</tspan><tspan x="1421" dy="6">FCA</tspan><tspan x="1421" dy="6">50 m3</tspan><tspan x="1421" dy="6">5x5x2 m</tspan></text>
<text class="b" x="1458" y="414"><tspan x="1458">DEPOSITO</tspan><tspan x="1458" dy="6">AGUA TRATADA</tspan><tspan x="1458" dy="6">5x5x4 m</tspan><tspan x="1458" dy="6">100 M3</tspan></text>
<text class="b" x="1455" y="443">EFLUENTE</text>
<text class="b" x="1455" y="489">EFLUENTE</text>
<use href="#nb" x="1394" y="404"/><text class="n" x="1394" y="405.5">14</text>
<use href="#nb" x="1453" y="467"/><text class="n" x="1453" y="468.5">16</text>
<use href="#nb" x="1202" y="556"/><text class="n" x="1202" y="557.5">15</text>
<text class="b" x="1202" y="517"><tspan x="1202">TRATAMIENTO AFINO</tspan><tspan x="1202" dy="6">FILTROS CARBON ACTIVO</tspan><tspan x="1202" dy="6">9+1 Filtros</tspan><tspan x="1202" dy="6">Qu 100 m3/h</tspan></text>
<text class="s" x="1373" y="508"><tspan x="1373">Bombas Centrífugas</tspan><tspan x="1373" dy="6">3x50%</tspan><tspan x="1373" dy="6">Qu 150 m3/h</tspan><tspan x="1373" dy="6">H 18 mca</tspan><tspan x="1373" dy="6">5 kW</tspan></text>

<!-- lower pink section -->
<path class="pd" d="M852,575 V552 H965 V769" marker-end="url(#mp)"/>
<path class="pd" d="M1076,772 H769" marker-end="url(#mp)"/>
<path class="pk" d="M766,772 H487"/>
<rect x="790" y="596" width="50" height="18" fill="#a9cbe8" stroke="#4f8fcf" stroke-width="0.7"/>
<path d="M796,598 V612 M803,598 V612 M810,598 V612 M817,598 V612 M824,598 V612 M831,598 V612" stroke="#eaf3fb" stroke-width="2"/>
<path d="M840,596 H890 V614 H840Z" fill="#4f8fcc" stroke="#2d67a3" stroke-width="0.7"/>
<path d="M840,596 L844,592 H894 L890,596Z M890,596 L894,592 V610 L890,614Z" fill="#3f7cbc" stroke="#2d67a3" stroke-width="0.6"/>
<path d="M856,596 V614 M873,596 V614" stroke="#2d67a3" stroke-width="0.8"/>
<use href="#gp" x="846" y="606"/><use href="#gp" x="863" y="606"/><use href="#gp" x="879" y="606"/>
<rect x="646.5" y="603.5" width="5" height="5" fill="#1f5e27"/>
<path class="pk" d="M872,592 V582 H920 V596" marker-end="url(#mp)"/>
<path class="pk" d="M862,614 V628"/>
<path d="M852,626 H868 V634 H860 V638 H852Z" fill="#e27a9b" stroke="#c24a71" stroke-width="0.6"/>
<path class="pk" d="M852,633 H738" marker-end="url(#mp)"/>
<path d="M912,598 H945 L942,618 H915Z" fill="#e592ad" stroke="#c65a80" stroke-width="0.8"/>
<path d="M918,600 V616 M924,600 V616 M930,600 V616 M936,600 V616" stroke="#f3c3d3" stroke-width="1"/>
<text class="b" x="930" y="624"><tspan x="930">DESNATADOR</tspan><tspan x="930" dy="6">PARA FLOTANTES</tspan></text>
<path d="M684,626 Q684,620 692,620 H724 Q730,620 730,626 V640 H684Z" fill="#e27a9b" stroke="#c24a71" stroke-width="0.8"/>
<path d="M688,640 L684,650 M726,640 L730,650 M690,644 H724" stroke="#c24a71" stroke-width="1.2"/>
<path class="pk" d="M683,628 H654" marker-end="url(#mp)"/>
<path class="pk" d="M724,641 H748 V702" marker-end="url(#mp)"/>
<text class="b" x="713" y="657"><tspan x="713">ESPESAMIENTO</tspan><tspan x="713" dy="6">LODOS</tspan><tspan x="713" dy="6">1x100%</tspan><tspan x="713" dy="6">Qm 21 m3/h</tspan></text>
<path d="M622,660 H655 V688 H622Z" fill="#e06a8e" stroke="#b84067" stroke-width="0.7"/>
<path d="M622,660 L632,650 H665 L655,660Z" fill="#ea8fab" stroke="#b84067" stroke-width="0.7"/>
<path d="M655,660 L665,650 V678 L655,688Z" fill="#c9557a" stroke="#b84067" stroke-width="0.7"/>
<path class="gd" d="M612,624 H618 V660"/>
<rect x="583" y="617" width="14" height="12" fill="#e4819f" stroke="#c24a71" stroke-width="0.6"/><rect x="600" y="617" width="14" height="12" fill="#e4819f" stroke="#c24a71" stroke-width="0.6"/>
<text class="s" x="553" y="619"><tspan x="553">Soplantes Circulo</tspan><tspan x="553" dy="6">Rotativas</tspan><tspan x="553" dy="6">2x100%</tspan><tspan x="553" dy="6">Qu 200 m3/h</tspan></text>
<path class="pk" d="M622,672 H611"/>
<path d="M580,674 H596 V668 H603 V662 H611 V668 H604 V674 H598 V679 H580Z" fill="#e27a9b" stroke="#c24a71" stroke-width="0.6"/>
<path class="pk" d="M602,662 V646 H461 V680" marker-end="url(#mp)"/>
<path class="pk" d="M534,646 V678" marker-end="url(#mp)"/>
<path class="pk" d="M533,711 H628 V699 H744" marker-end="url(#mp)"/>
<text class="s" x="598" y="689"><tspan x="598">Bombas</tspan><tspan x="598" dy="6">Helicoidales</tspan><tspan x="598" dy="6">3x50%</tspan><tspan x="598" dy="6">Qu 15 m3/h</tspan></text>
<text class="b" x="655" y="737"><tspan x="655">DEPOSITO LODOS</tspan><tspan x="655" dy="6">MIXTOS</tspan><tspan x="655" dy="6">Vu=100 m3</tspan><tspan x="655" dy="6">5x5x4,5 m</tspan></text>
<path d="M736,707 H752 V728 H736Z" fill="#b84a6c" stroke="#8e3050" stroke-width="0.6"/>
<path d="M736,707 L740,703 H756 L752,707Z M752,707 L756,703 V724 L752,728Z" fill="#d06a8b" stroke="#8e3050" stroke-width="0.6"/>
<use href="#gp" x="745" y="720"/><circle cx="739" cy="722" r="1.5" fill="#2b5fa8"/>
<path class="pk" d="M754,720 H763 V772"/>
<text class="b" x="745" y="741"><tspan x="745">BOMBEO</tspan><tspan x="745" dy="6">Vu 18m3</tspan><tspan x="745" dy="6">2x3x3 m</tspan></text>
<text class="s" x="790" y="723"><tspan x="790">Bombas</tspan><tspan x="790" dy="6">Sumergibles2</tspan><tspan x="790" dy="6">1x100%</tspan><tspan x="790" dy="6">Qu 60 m3/h</tspan><tspan x="790" dy="6">H 12 mca</tspan></text>
<text class="s" x="805" y="651"><tspan x="805">Bombas</tspan><tspan x="805" dy="6">Sumergibles</tspan><tspan x="805" dy="6">2x50%</tspan><tspan x="805" dy="6">Qu 2.979 m3/h</tspan><tspan x="805" dy="6">H 17 mca</tspan></text>
<text class="s" x="843" y="651"><tspan x="843">Bombas</tspan><tspan x="843" dy="6">Sumergibles</tspan><tspan x="843" dy="6">2x100%</tspan><tspan x="843" dy="6">Qu 294 m3/h</tspan><tspan x="843" dy="6">H 3 mca</tspan></text>
<text class="s" x="878" y="651"><tspan x="878">Bombas</tspan><tspan x="878" dy="6">Helicoidales</tspan><tspan x="878" dy="6">2x100%</tspan><tspan x="878" dy="6">Qu 20 m3/h</tspan></text>
<text class="s" x="913" y="651"><tspan x="913">Bombas</tspan><tspan x="913" dy="6">Sumergibles</tspan><tspan x="913" dy="6">2x50%</tspan><tspan x="913" dy="6">Qu 15 m3/h</tspan><tspan x="913" dy="6">H 18 mca</tspan></text>
<path class="pk" d="M382,711 H371 V642 H345 V651" marker-end="url(#mp)"/>
<g fill="#e27a9b" stroke="#c24a71" stroke-width="0.8">
<path d="M333,660 Q333,655 345,655 Q358,655 358,660 V692 L348,702 H343 L333,692Z"/>
<path d="M318,668 Q318,663 330,663 Q343,663 343,668 V700 L333,710 H328 L318,700Z"/>
</g>
<path d="M320,700 V718 M341,700 V718 M335,692 V714 M356,692 V714" stroke="#c24a71" stroke-width="1.3"/>
<path d="M323,672 V698 M338,664 V690" stroke="#f2b8cb" stroke-width="2"/>
<rect x="383" y="689" width="58" height="14" rx="4" fill="#e27a9b" stroke="#c24a71" stroke-width="0.8"/>
<rect x="376" y="691" width="8" height="10" fill="#c9557a"/>
<path d="M392,703 V709 H440 M386,710 H398 V716 H386Z" stroke="#c24a71" stroke-width="1.2" fill="none"/>
<rect x="452" y="684" width="6" height="21" fill="#e27a9b" stroke="#c24a71" stroke-width="0.7"/>
<rect x="468" y="689" width="66" height="14" rx="4" fill="#e27a9b" stroke="#c24a71" stroke-width="0.8"/>
<rect x="461" y="691" width="8" height="10" fill="#c9557a"/>
<path d="M476,703 V709 H530 M470,710 H482 V716 H470Z" stroke="#c24a71" stroke-width="1.2" fill="none"/>
<path d="M396,694 H430 M480,694 H525" stroke="#f2b8cb" stroke-width="1"/>
<text class="b" x="332" y="731"><tspan x="332">SILO LODOS</tspan><tspan x="332" dy="6">2x50%</tspan><tspan x="332" dy="6">Vu 60 T/h</tspan></text>
<text class="s" x="396" y="735"><tspan x="396">Bombas</tspan><tspan x="396" dy="6">Helicoidales</tspan><tspan x="396" dy="6">2x100%</tspan><tspan x="396" dy="6">Qu 0,5 m3/h</tspan></text>
<text class="b" x="465" y="731"><tspan x="465">DESHIDRATACION</tspan><tspan x="465" dy="6">LODOS</tspan><tspan x="465" dy="6">2x50%</tspan><tspan x="465" dy="6">Qs=15 m3/h</tspan></text>
<text class="s" x="520" y="735"><tspan x="520">Centrifugadoras</tspan><tspan x="520" dy="6">Presas-tornillo</tspan><tspan x="520" dy="6">2x50%</tspan><tspan x="520" dy="6">Qu 15 m3/h</tspan></text>
<use href="#nb" x="917" y="543"/><text class="n" x="917" y="544.5">9.1</text>
<use href="#nb" x="917" y="566"/><text class="n" x="917" y="567.5">13</text>
<use href="#nb" x="840" y="564"/><text class="n" x="840" y="565.5">11</text>
<use href="#nb" x="762" y="589"/><text class="n" x="762" y="590.5">11</text>
<use href="#nb" x="663" y="620"/><text class="n" x="663" y="621.5">15</text>
<use href="#nb" x="633" y="636"/><text class="n" x="633" y="637.5">16</text>
<use href="#nb" x="751" y="620"/><text class="n" x="751" y="621.5">18</text>
<use href="#nb" x="762" y="666"/><text class="n" x="762" y="667.5">17</text>
<use href="#nb" x="558" y="700"/><text class="n" x="558" y="701.5">9.10</text>
<use href="#nb" x="763" y="710"/><text class="n" x="763" y="711.5">9.11</text>
<use href="#nb" x="693" y="761"/><text class="n" x="693" y="762.5">9.4</text>
<use href="#nb" x="1016" y="761"/><text class="n" x="1016" y="762.5">9.2</text>
<use href="#nb" x="382" y="669"/><text class="n" x="382" y="670.5">9</text>
<use href="#nb" x="518" y="637"/><text class="n" x="518" y="638.5">10</text>

<!-- Línea de tratamiento -->
<text x="1108" y="717" font-size="37" fill="#6e767b" textLength="384" lengthAdjust="spacingAndGlyphs">Línea de tratamiento</text>

<!-- footer -->
<text x="47" y="843" font-size="50" font-weight="bold" fill="#000" textLength="58" lengthAdjust="spacingAndGlyphs">29</text>
<circle cx="132" cy="822" r="18" fill="#6cc9cc"/>
<g fill="#e8f7f7"><circle cx="125" cy="814" r="3"/><circle cx="136" cy="812" r="2.5"/><circle cx="140" cy="823" r="3"/><circle cx="128" cy="826" r="2.6"/><circle cx="134" cy="833" r="2.4"/><circle cx="122" cy="824" r="2"/></g>
<g fill="#3aa9ad"><circle cx="131" cy="819" r="2"/><circle cx="143" cy="815" r="1.6"/><circle cx="124" cy="832" r="1.6"/></g>
<text x="151" y="836" font-size="24" fill="#3f4c56" textLength="71" lengthAdjust="spacingAndGlyphs">aitasa</text>
<text x="151" y="843" font-size="3.8" fill="#3fb0b6">Aigua Industrial de Tarragona S.A.</text>
<text x="258" y="831" font-size="15.5" font-weight="bold" fill="#7d8388" textLength="682" lengthAdjust="spacingAndGlyphs">Planta de Tratamiento Conjunto de Efluentes de Industrias Químicas de Tarragona</text>

<!-- photo circles -->
<ellipse cx="1123" cy="812" rx="28" ry="30" fill="#43cfc3"/>
<g clip-path="url(#c1)"><rect x="1095" y="780" width="60" height="64" fill="#2c3f72"/><path d="M1098,800 Q1120,788 1150,800 V812 H1098Z" fill="#4f6fb5"/><ellipse cx="1128" cy="826" rx="15" ry="10" fill="#e8e020"/><rect x="1098" y="830" width="20" height="12" fill="#1b2440"/></g>
<ellipse cx="1182" cy="827" rx="28" ry="30" fill="#8ed833"/>
<g clip-path="url(#c2)"><rect x="1155" y="797" width="56" height="62" fill="#3f474d"/><path d="M1165,805 L1195,800 L1200,845 L1170,850Z" fill="#8a9298"/><rect x="1180" y="812" width="10" height="25" fill="#d6dadc"/></g>
<ellipse cx="1231" cy="797" rx="33" ry="33" fill="#5ec2df"/>
<g clip-path="url(#c3)"><rect x="1200" y="766" width="64" height="62" fill="#6b7a86"/><path d="M1205,785 L1245,770 L1262,800 L1222,818Z" fill="#a8b5bf"/><path d="M1212,790 L1250,777 M1215,798 L1253,785 M1218,806 L1256,793" stroke="#4a5660" stroke-width="1.5"/><rect x="1240" y="808" width="10" height="6" fill="#c04040"/></g>
<ellipse cx="1292" cy="784" rx="30" ry="30" fill="#a9e3f2"/>
<g clip-path="url(#c4)"><rect x="1264" y="756" width="56" height="56" fill="#cbe8f6"/><path d="M1264,795 Q1290,785 1320,795 V812 H1264Z" fill="#3f8fd6"/><path d="M1288,760 Q1292,780 1290,800" stroke="#2a6fc0" stroke-width="2" fill="none"/><circle cx="1305" cy="780" r="6" fill="#c9a66b"/></g>
<ellipse cx="1346" cy="812" rx="29" ry="32" fill="#2d52da"/>
<g clip-path="url(#c5)"><rect x="1318" y="782" width="56" height="60" fill="#dce9f4"/><path d="M1330,790 L1360,800 L1350,830 L1325,820Z" fill="#7fa8d0"/><circle cx="1352" cy="812" r="5" fill="#1c2f5a"/><path d="M1340,822 L1358,808" stroke="#222" stroke-width="2"/></g>
<ellipse cx="1408" cy="827" rx="29" ry="32" fill="#c54050"/>
<g clip-path="url(#c6)"><rect x="1380" y="797" width="56" height="62" fill="#ecdcd6"/><path d="M1385,845 L1425,815 L1432,825 L1395,855Z" fill="#d9a48a"/><path d="M1400,808 L1425,800" stroke="#a05050" stroke-width="2"/></g>
<path d="M1468,838 V826 L1485,815 L1502,826 V838 Z" fill="#fff" stroke="#4a5055" stroke-width="1.6"/>
</svg>
</body></html>
